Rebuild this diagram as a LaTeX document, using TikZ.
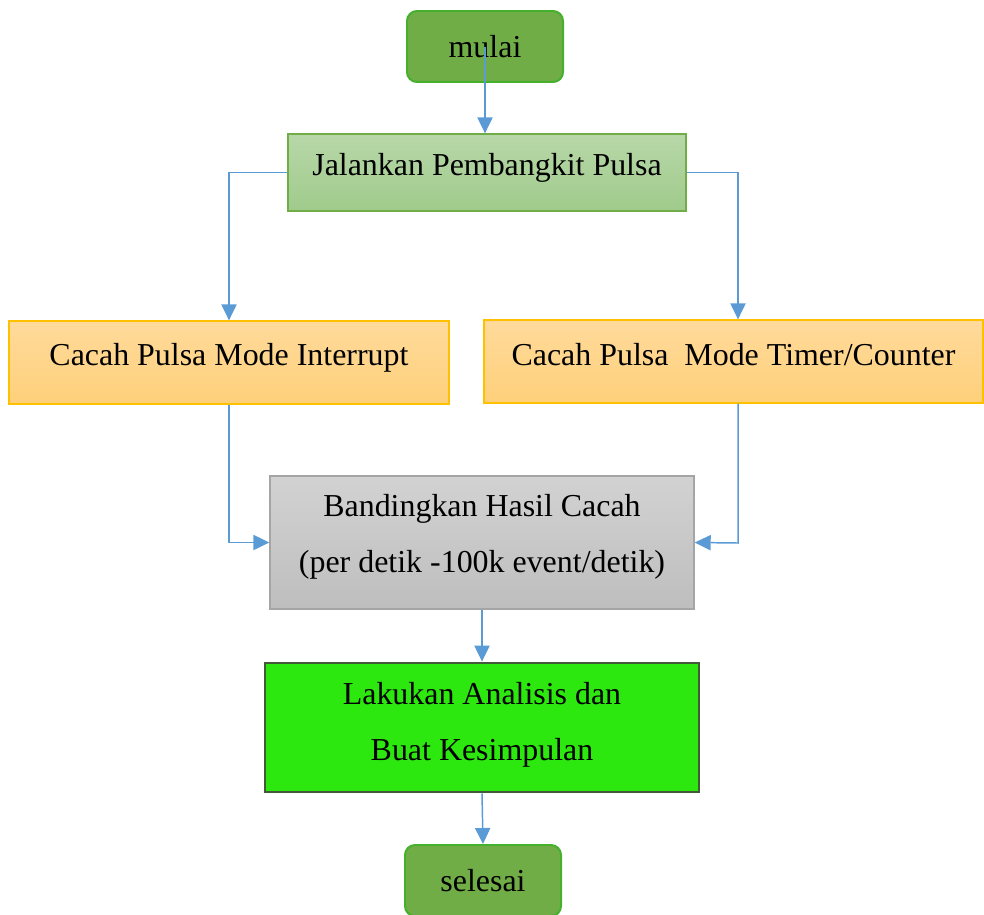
\documentclass[tikz,border=0pt]{standalone}
\usepackage{fontspec}
\setmainfont{Liberation Serif}
\usetikzlibrary{arrows.meta}

\definecolor{termfill}{HTML}{70AD47}
\definecolor{termline}{HTML}{44B02C}
\definecolor{lineblue}{HTML}{5B9BD5}
\definecolor{orangeline}{HTML}{FFC000}
\definecolor{grayline}{HTML}{A5A5A5}
\definecolor{brightgreen}{HTML}{2CE80F}
\definecolor{darkolive}{HTML}{435A38}

\begin{document}
\begin{tikzpicture}[x=0.025cm, y=-0.025cm,
    every node/.style={font=\fontsize{22.7}{40}\selectfont, align=center, inner sep=0pt},
    term/.style={rounded corners=0.25cm, fill=termfill, draw=termline, line width=1.4pt,
        minimum width=3.9cm, minimum height=1.775cm},
    greenbox/.style={draw=termfill, line width=0.9pt, top color={rgb,255:red,183;green,215;blue,168},
        bottom color={rgb,255:red,160;green,203;blue,140}},
    orangebox/.style={draw=orangeline, line width=0.9pt, top color={rgb,255:red,255;green,218;blue,155},
        bottom color={rgb,255:red,254;green,208;blue,122}},
    graybox/.style={draw=grayline, line width=0.9pt, top color={rgb,255:red,210;green,210;blue,210},
        bottom color={rgb,255:red,190;green,190;blue,190}},
    flow/.style={draw=lineblue, line width=1.05pt, -{Triangle[width=0.38cm,length=0.4cm]}}]
    \useasboundingbox (0,0) rectangle (984,914);

    % start / end
    \node[term] (mulai) at (485,46.5) {mulai};
    \node[term] (selesai) at (483,880.5) {selesai};

    % process steps (text depth lifts the text a little, as in the original)
    \node[greenbox, minimum width=9.95cm, minimum height=1.925cm, text depth=12pt] (jalan) at (487,172.5) {Jalankan Pembangkit Pulsa};
    \node[orangebox, minimum width=11cm, minimum height=2.075cm, text depth=12pt] (intr) at (229,362.5) {Cacah Pulsa Mode Interrupt};
    \node[orangebox, minimum width=12.475cm, minimum height=2.075cm, text depth=10.4pt] (timer) at (733.5,361.5) {Cacah Pulsa\ \ Mode Timer/Counter};
    \node[graybox, minimum width=10.6cm, minimum height=3.325cm, text depth=12.8pt] (banding) at (482,542.5) {Bandingkan Hasil Cacah\\ (per detik -100k event/detik)};
    \node[fill=brightgreen, draw=darkolive, line width=2pt, minimum width=10.85cm, minimum height=3.225cm, text depth=9.1pt] (analisis) at (482,727.5) {Lakukan Analisis dan\\ Buat Kesimpulan};

    % bend points
    \coordinate (kiri) at (229,172.5);
    \coordinate (kanan) at (738,172.5);
    \coordinate (kanan2) at (738,543);

    % connectors
    \draw[flow] (mulai.center) -- (mulai.center |- jalan.north);
    \draw[flow] (jalan.west) -- (kiri) -- (intr.north);
    \draw[flow] (jalan.east) -- (kanan) -- (kanan |- timer.north);
    \draw[flow] (intr.south) |- (banding.west);
    \draw[flow] (timer.south -| kanan2) -- (kanan2) -- (banding.east);
    \draw[flow] (banding.south) -- (analisis.north);
    \draw[flow] (analisis.south) -- (selesai.north);
\end{tikzpicture}
\end{document}
